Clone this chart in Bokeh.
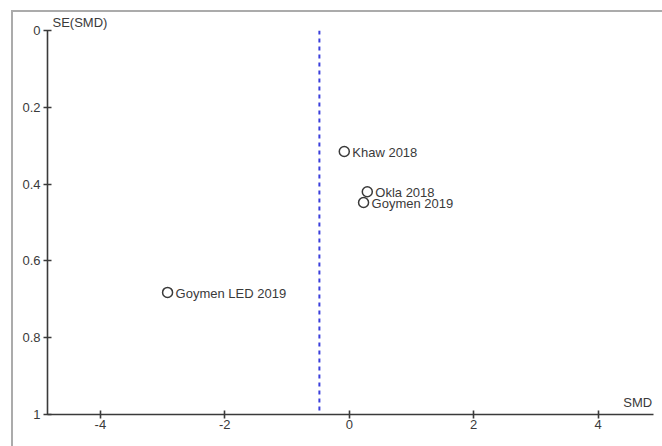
from bokeh.plotting import figure
from bokeh.models import Range1d, FixedTicker, Label, Span, ColumnDataSource
from bokeh.core.properties import value
from bokeh.embed import file_html
from bokeh.resources import INLINE

# Funnel plot: standardised mean difference vs. its standard error
studies = ["Khaw 2018", "Okla 2018", "Goymen 2019", "Goymen LED 2019"]
smd = [-0.08, 0.29, 0.23, -2.92]
se = [0.315, 0.42, 0.448, 0.682]
pooled_smd = -0.48

x_ticks = [-4, -2, 0, 2, 4]
y_ticks = [0, 0.2, 0.4, 0.6, 0.8, 1]

FONT = "Liberation Sans"
SIZE = "13px"
INK = "#3a3a3a"

p = figure(width=651, height=436, output_backend="svg", toolbar_location=None,
           x_range=Range1d(-4.85, 4.89), y_range=Range1d(1, 0),
           min_border_left=34, min_border_top=17, min_border_bottom=34,
           min_border_right=11)
p.margin = (10, 0, 0, 11)
p.styles = {"border-top": "2px solid #ababab", "border-left": "2px solid #ababab"}
p.outline_line_color = None
p.grid.visible = False

# y-axis caption sits just above the top of the axis
p.title.text = "SE(SMD)"
p.title.align = "left"
p.title.offset = 5
p.title.standoff = 1
p.title.text_font = FONT
p.title.text_font_size = SIZE
p.title.text_font_style = "normal"
p.title.text_color = INK

for ax in (p.xaxis[0], p.yaxis[0]):
    ax.axis_line_color = INK
    ax.axis_line_width = 1.6
    ax.major_tick_line_color = INK
    ax.major_tick_line_width = 1.6
    ax.major_tick_in = 4
    ax.major_tick_out = 4
    ax.minor_tick_line_color = None
    ax.major_label_text_font = FONT
    ax.major_label_text_font_size = SIZE
    ax.major_label_text_color = INK

p.xaxis.ticker = FixedTicker(ticks=x_ticks)
p.yaxis.ticker = FixedTicker(ticks=y_ticks)
p.xaxis.major_label_overrides = {t: str(t) for t in x_ticks}
p.yaxis.major_label_overrides = {0: "0", 0.2: "0.2", 0.4: "0.4", 0.6: "0.6", 0.8: "0.8", 1: "1"}
p.xaxis.major_label_standoff = 1
p.yaxis.major_label_standoff = 3

# pooled estimate
p.add_layout(Span(location=pooled_smd, dimension="height", line_color="#3b3fdc",
                  line_width=2, line_dash="4 4"))

src = ColumnDataSource(dict(x=smd, y=se, name=studies))
p.scatter("x", "y", source=src, size=10, fill_color="white", line_color=INK,
          line_width=1.5)
p.text("x", "y", text="name", source=src, x_offset=8, y_offset=1,
       text_font=value(FONT), text_font_size=SIZE, text_color=INK,
       text_baseline="middle", text_align="left")

p.add_layout(Label(x=4.87, y=0.97, text="SMD", text_font=FONT,
                   text_font_size=SIZE, text_color=INK, text_baseline="middle",
                   text_align="right"))

open("out.html", "w").write(file_html(p, INLINE))
